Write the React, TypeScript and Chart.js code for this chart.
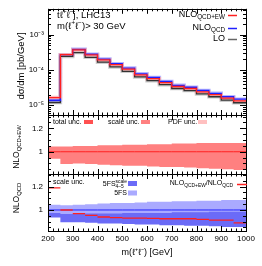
import React, { useEffect, useRef } from 'react';
import { Chart, registerables } from 'chart.js';

Chart.register(...registerables);

// ---------------- data ----------------
const binEdges = [200, 250, 300, 350, 400, 450, 500, 550, 600, 650, 700, 750, 800, 850, 900, 950, 1000];
const nloQcdEw = [1.66e-5, 2.74e-4, 3.76e-4, 2.69e-4, 1.94e-4, 1.42e-4, 1.06e-4, 7.3e-5, 5.7e-5, 4.4e-5, 3.42e-5, 3.0e-5, 2.42e-5, 2.0e-5, 1.6e-5, 1.33e-5];
const nloQcd = [1.39e-5, 2.74e-4, 3.88e-4, 2.82e-4, 2.06e-4, 1.52e-4, 1.14e-4, 7.85e-5, 6.15e-5, 4.75e-5, 3.7e-5, 3.25e-5, 2.63e-5, 2.19e-5, 1.75e-5, 1.49e-5];
const lo = [1.2e-5, 2.45e-4, 3.15e-4, 2.3e-4, 1.68e-4, 1.23e-4, 9.2e-5, 6.4e-5, 5.0e-5, 3.85e-5, 3.0e-5, 2.62e-5, 2.1e-5, 1.75e-5, 1.4e-5, 1.18e-5];

const totUncUp = [1.045, 1.045, 1.05, 1.05, 1.055, 1.055, 1.06, 1.06, 1.065, 1.065, 1.07, 1.07, 1.075, 1.075, 1.075, 1.075];
const totUncLo = [0.94, 0.895, 0.9, 0.895, 0.89, 0.885, 0.88, 0.88, 0.875, 0.87, 0.87, 0.865, 0.86, 0.855, 0.85, 0.845];
const unity = [1, 1, 1, 1, 1, 1, 1, 1, 1, 1, 1, 1, 1, 1, 1, 1];

const ratioEwOverQcd = [1.19, 1.0, 0.968, 0.953, 0.94, 0.935, 0.93, 0.93, 0.928, 0.925, 0.925, 0.925, 0.92, 0.913, 0.913, 0.89];
const fs5Up = [1.045, 1.04, 1.045, 1.05, 1.055, 1.06, 1.06, 1.065, 1.07, 1.07, 1.075, 1.075, 1.08, 1.08, 1.085, 1.085];
const fs5Lo = [0.955, 0.96, 0.955, 0.955, 0.95, 0.95, 0.945, 0.945, 0.94, 0.94, 0.94, 0.935, 0.935, 0.93, 0.93, 0.93];
const fs45Up = [0.975, 0.965, 0.965, 0.97, 0.97, 0.97, 0.975, 0.975, 0.975, 0.975, 0.98, 0.98, 0.98, 0.985, 0.985, 0.985];
const fs45Lo = [0.935, 0.895, 0.895, 0.89, 0.885, 0.885, 0.88, 0.875, 0.875, 0.87, 0.87, 0.865, 0.865, 0.86, 0.855, 0.855];

const xMajorTicks = [200, 300, 400, 500, 600, 700, 800, 900, 1000];
const logTicks = [1e-5, 1e-4, 1e-3];
const logTickLabels = ['10⁻⁵', '10⁻⁴', '10⁻³'];
const ratioTicks = [1, 1.2];
const ratioTickLabels = ['1', '1.2'];

// ---------------- layout / style ----------------
const FONT = '"Liberation Sans", Arial, Helvetica, sans-serif';
const W = 262;
const H = 266;
const PLOT_LEFT = 48;
const PLOT_RIGHT = 246;
const RED = '#ff2020';
const BLUE = '#2020ff';
const LOCOL = '#333333';

type Part = { t: string; s?: 'sub' | 'sup'; b?: string };

function drawRich(ctx: CanvasRenderingContext2D, parts: Part[], x: number, y: number, size: number, align: 'left' | 'right' | 'center') {
  const small = size * 0.7;
  const widths = parts.map((p) => {
    ctx.font = `${p.s || p.b ? small : size}px ${FONT}`;
    let w = ctx.measureText(p.t).width;
    if (p.b) w = Math.max(w, ctx.measureText(p.b).width);
    return w;
  });
  const total = widths.reduce((a, b) => a + b, 0);
  let cx = align === 'right' ? x - total : align === 'center' ? x - total / 2 : x;
  ctx.textAlign = 'left';
  ctx.textBaseline = 'middle';
  parts.forEach((p, i) => {
    if (p.b) {
      ctx.font = `${small}px ${FONT}`;
      ctx.fillText(p.t, cx, y - size * 0.4);
      ctx.fillText(p.b, cx, y + size * 0.35);
    } else {
      ctx.font = `${p.s ? small : size}px ${FONT}`;
      const dy = p.s === 'sub' ? size * 0.3 : p.s === 'sup' ? -size * 0.35 : 0;
      ctx.fillText(p.t, cx, y + dy);
    }
    cx += widths[i];
  });
}

function drawRotated(ctx: CanvasRenderingContext2D, parts: Part[], x: number, y: number, size: number) {
  ctx.save();
  ctx.translate(x, y);
  ctx.rotate(-Math.PI / 2);
  drawRich(ctx, parts, 0, 0, size, 'center');
  ctx.restore();
}

function steps(vals: number[]) {
  const pts = vals.map((v, i) => ({ x: binEdges[i], y: v }));
  pts.push({ x: binEdges[binEdges.length - 1], y: vals[vals.length - 1] });
  return pts;
}

// horizontal segments only (no vertical connectors)
function segments(vals: number[]) {
  const pts: { x: number; y: number | null }[] = [];
  vals.forEach((v, i) => {
    if (i > 0) pts.push({ x: binEdges[i], y: null });
    pts.push({ x: binEdges[i], y: v });
    pts.push({ x: binEdges[i + 1], y: v });
  });
  return pts;
}

function lineDs(vals: number[], color: string, width: number, order: number) {
  return { data: steps(vals), borderColor: color, borderWidth: width, pointRadius: 0, stepped: true, fill: false, order };
}

function bandUpper(vals: number[], color: string, order: number) {
  return { data: steps(vals), borderColor: 'transparent', borderWidth: 0, backgroundColor: color, pointRadius: 0, stepped: true, fill: '+1', order };
}
function bandLower(vals: number[], order: number) {
  return { data: steps(vals), borderColor: 'transparent', borderWidth: 0, pointRadius: 0, stepped: true, fill: false, order };
}

function decor(kind: 'top' | 'mid' | 'bot') {
  return {
    id: 'decor_' + kind,
    afterDraw(chart: any) {
      const ctx: CanvasRenderingContext2D = chart.ctx;
      const { left, right, top, bottom } = chart.chartArea;
      const xs = chart.scales.x;
      const ys = chart.scales.y;
      ctx.save();
      ctx.strokeStyle = '#000';
      ctx.lineWidth = 1;
      ctx.strokeRect(Math.round(left) + 0.5, Math.round(top) + 0.5, Math.round(right - left), Math.round(bottom - top));
      ctx.beginPath();
      // x ticks (inward, top & bottom)
      for (let v = 200; v <= 1000; v += 20) {
        const len = v % 100 === 0 ? 5 : 2.5;
        const px = Math.round(xs.getPixelForValue(v)) + 0.5;
        ctx.moveTo(px, bottom);
        ctx.lineTo(px, bottom - len);
        ctx.moveTo(px, top);
        ctx.lineTo(px, top + len);
      }
      // y ticks
      const yt: [number, number][] = [];
      if (kind === 'top') {
        for (let e = -6; e <= -2; e++) {
          for (let k = 1; k <= 9; k++) {
            const v = k * Math.pow(10, e);
            if (v >= ys.min && v <= ys.max) yt.push([v, k === 1 ? 6 : 3]);
          }
        }
      } else {
        for (let i = 16; i <= 27; i++) {
          const v = i * 0.05;
          if (v >= ys.min && v <= ys.max) yt.push([v, i % 4 === 0 ? 6 : 3]);
        }
      }
      yt.forEach(([v, len]) => {
        const py = Math.round(ys.getPixelForValue(v)) + 0.5;
        ctx.moveTo(left, py);
        ctx.lineTo(left + len, py);
        ctx.moveTo(right, py);
        ctx.lineTo(right - len, py);
      });
      ctx.stroke();

      ctx.fillStyle = '#000';
      ctx.lineWidth = 1.5;
      if (kind === 'top') {
        drawRich(ctx, [{ t: 'tℓ' }, { t: '+', s: 'sup' }, { t: 'ℓ' }, { t: '−', s: 'sup' }, { t: 'j, LHC13' }], 57, 15, 9.5, 'left');
        drawRich(ctx, [{ t: 'm(ℓ' }, { t: '+', s: 'sup' }, { t: 'ℓ' }, { t: '−', s: 'sup' }, { t: ')> 30 GeV' }], 57, 26.5, 9.5, 'left');
        drawRich(ctx, [{ t: 'NLO' }, { t: 'QCD+EW', s: 'sub' }], 225, 14.5, 9, 'right');
        drawRich(ctx, [{ t: 'NLO' }, { t: 'QCD', s: 'sub' }], 225, 27.5, 9, 'right');
        drawRich(ctx, [{ t: 'LO' }], 225, 39, 9, 'right');
        const keys: [number, string][] = [[15, RED], [28, BLUE], [39, '#666']];
        keys.forEach(([y, c]) => {
          ctx.strokeStyle = c;
          ctx.beginPath();
          ctx.moveTo(228, y + 0.5);
          ctx.lineTo(237, y + 0.5);
          ctx.stroke();
        });
        drawRotated(ctx, [{ t: 'dσ/dm [pb/GeV]' }], 21, 66, 9.5);
      } else if (kind === 'mid') {
        drawRich(ctx, [{ t: 'total unc.' }], 53, 122, 7, 'left');
        drawRich(ctx, [{ t: 'scale unc.' }], 108, 122, 7, 'left');
        drawRich(ctx, [{ t: 'PDF unc.' }], 168, 122, 7, 'left');
        const boxes: [number, string][] = [[84, '#ff5050'], [141, '#ff8080'], [198, '#ffc0c0']];
        boxes.forEach(([x, c]) => {
          ctx.fillStyle = c;
          ctx.fillRect(x, 120, 9, 4);
        });
        ctx.fillStyle = '#000';
        drawRotated(ctx, [{ t: 'NLO' }, { t: 'QCD+EW', s: 'sub' }], 17, 147, 8.5);
      } else {
        drawRich(ctx, [{ t: 'scale unc.' }], 53, 182.5, 7, 'left');
        drawRich(ctx, [{ t: '5FS' }, { t: 'scale', b: '4–5' }], 127, 184, 7, 'right');
        drawRich(ctx, [{ t: '5FS' }], 127, 193, 7, 'right');
        drawRich(ctx, [{ t: 'NLO' }, { t: 'QCD+EW', s: 'sub' }, { t: '/NLO' }, { t: 'QCD', s: 'sub' }], 233, 183.5, 7, 'right');
        ctx.fillStyle = '#6b6bf7';
        ctx.fillRect(128, 181, 9, 5);
        ctx.fillStyle = '#aaaaff';
        ctx.fillRect(128, 190.5, 9, 5);
        ctx.strokeStyle = RED;
        ctx.beginPath();
        ctx.moveTo(237, 184.5);
        ctx.lineTo(247, 184.5);
        ctx.stroke();
        ctx.fillStyle = '#000';
        drawRotated(ctx, [{ t: 'NLO' }, { t: 'QCD', s: 'sub' }], 17, 198, 8.5);
      }
      ctx.restore();
    },
  };
}

function makeOptions(panelTop: number, panelBottom: number, yScale: any, showX: boolean) {
  const tickFont = { size: 8, family: FONT };
  return {
    responsive: false,
    maintainAspectRatio: false,
    animation: false,
    events: [],
    spanGaps: false,
    layout: { padding: { left: 0, right: W - PLOT_RIGHT, top: panelTop, bottom: showX ? 0 : H - panelBottom } },
    plugins: { legend: { display: false }, tooltip: { enabled: false } },
    scales: {
      x: {
        type: 'linear',
        min: 200,
        max: 1000,
        display: showX,
        grid: { display: false, drawTicks: false },
        border: { display: false },
        afterBuildTicks: (s: any) => {
          s.ticks = xMajorTicks.map((v) => ({ value: v }));
        },
        ticks: { font: tickFont, color: '#000', padding: 2.5, maxRotation: 0, autoSkip: false, callback: (v: any) => String(v) },
        title: { display: true, text: 'm(ℓ⁺ℓ⁻) [GeV]', font: { size: 9, family: FONT }, color: '#000', padding: { top: 0, bottom: 8 } },
        afterFit: (s: any) => {
          s.height = showX ? H - panelBottom : 0;
        },
      },
      y: {
        ...yScale,
        grid: { display: false, drawTicks: false },
        border: { display: false },
        afterFit: (s: any) => {
          s.width = PLOT_LEFT;
        },
      },
    },
  };
}

export default function App() {
  const c1 = useRef<HTMLCanvasElement>(null);
  const c2 = useRef<HTMLCanvasElement>(null);
  const c3 = useRef<HTMLCanvasElement>(null);

  useEffect(() => {
    const tickFont = { size: 8, family: FONT };
    const top = new Chart(c1.current as HTMLCanvasElement, {
      type: 'line',
      data: {
        datasets: [
          lineDs(nloQcdEw, RED, 1.3, 1),
          lineDs(nloQcd, BLUE, 1.3, 2),
          lineDs(lo, LOCOL, 1.3, 3),
          lineDs(nloQcdEw, 'rgba(255,160,160,0.7)', 3.5, 4),
          lineDs(nloQcd, 'rgba(150,150,255,0.7)', 3.5, 5),
          lineDs(lo, 'rgba(170,170,170,0.6)', 3.5, 6),
        ] as any,
      },
      options: makeOptions(5, 115, {
        type: 'logarithmic',
        min: 5.3e-6,
        max: 5.5e-3,
        afterBuildTicks: (s: any) => {
          s.ticks = logTicks.map((v) => ({ value: v }));
        },
        ticks: { font: tickFont, color: '#000', padding: 4, callback: (v: any) => logTickLabels[logTicks.indexOf(v)] ?? '' },
      }, false) as any,
      plugins: [decor('top')],
    });

    const mid = new Chart(c2.current as HTMLCanvasElement, {
      type: 'line',
      data: {
        datasets: [
          bandUpper(totUncUp, '#ff8080', 3),
          bandLower(totUncLo, 4),
          lineDs(unity, RED, 1, 1),
        ] as any,
      },
      options: makeOptions(115, 174, {
        type: 'linear',
        min: 0.81,
        max: 1.314,
        afterBuildTicks: (s: any) => {
          s.ticks = ratioTicks.map((v) => ({ value: v }));
        },
        ticks: { font: tickFont, color: '#000', padding: 5, callback: (v: any) => ratioTickLabels[ratioTicks.indexOf(v)] ?? '' },
      }, false) as any,
      plugins: [decor('mid')],
    });

    const bot = new Chart(c3.current as HTMLCanvasElement, {
      type: 'line',
      data: {
        datasets: [
          bandUpper(fs5Up, '#aaaaff', 6),
          bandLower(fs5Lo, 7),
          bandUpper(fs45Up, '#6b6bf7', 4),
          bandLower(fs45Lo, 5),
          lineDs(unity, BLUE, 1, 2),
          { data: segments(ratioEwOverQcd), borderColor: RED, borderWidth: 1.3, pointRadius: 0, fill: false, spanGaps: false, order: 1 },
        ] as any,
      },
      options: makeOptions(174, 231, {
        type: 'linear',
        min: 0.82,
        max: 1.308,
        afterBuildTicks: (s: any) => {
          s.ticks = ratioTicks.map((v) => ({ value: v }));
        },
        ticks: { font: tickFont, color: '#000', padding: 5, callback: (v: any) => ratioTickLabels[ratioTicks.indexOf(v)] ?? '' },
      }, true) as any,
      plugins: [decor('bot')],
    });

    return () => {
      top.destroy();
      mid.destroy();
      bot.destroy();
    };
  }, []);

  const cs: React.CSSProperties = { position: 'absolute', left: 0, top: 0, width: W, height: H };
  return (
    <div style={{ position: 'fixed', left: 0, top: 0, width: W, height: H, background: '#fff' }}>
      <canvas ref={c1} width={W} height={H} style={cs} />
      <canvas ref={c2} width={W} height={H} style={cs} />
      <canvas ref={c3} width={W} height={H} style={cs} />
    </div>
  );
}
